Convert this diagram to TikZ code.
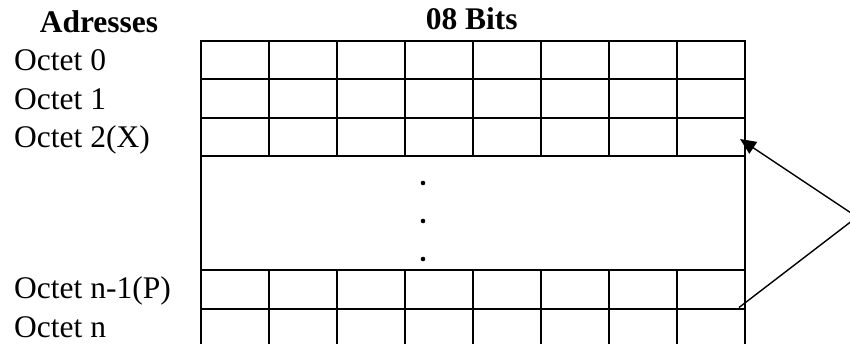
\documentclass[tikz,border=0pt]{standalone}
\usepackage{fontspec}
\setmainfont{Liberation Serif}
\usetikzlibrary{arrows.meta}
\begin{document}
\begin{tikzpicture}[x=1pt,y=-1pt,
  lbl/.style={anchor=base west,inner sep=0pt,font=\fontsize{31.5}{36}\selectfont},
  head/.style={anchor=base,inner sep=0pt,font=\fontsize{31.5}{36}\selectfont\bfseries},
  grid/.style={line width=1.9pt,line cap=rect},
  ptr/.style={line width=1.4pt,-{Triangle[length=16pt,width=14pt]}},
  ptrn/.style={line width=1.4pt}]
\useasboundingbox (0,0) rectangle (850,344);
% headings
\node[head] (hadr) at (99,33) {Adresses};
\node[head] (hbits) at (471.7,30) {08 Bits};
% labels
\node[lbl] (o0) at (14,71) {Octet 0};
\node[lbl] (o1) at (14,110) {Octet 1};
\node[lbl] (o2) at (14,148) {Octet 2(X)};
\node[lbl] (on1) at (14,298.3) {Octet n-1(P)};
\node[lbl] (on) at (14,337.3) {Octet n};
% table
\draw[grid] (200.7,40.7) rectangle (744.7,347.5);
\foreach \yy in {79.3,117.7,156,270,309}
  \draw[grid] (200.7,\yy) -- (744.7,\yy);
\foreach \k in {1,...,7}{
  \draw[grid] (200.7+68*\k,40.7) -- (200.7+68*\k,156);
  \draw[grid] (200.7+68*\k,270) -- (200.7+68*\k,347.5);
}
% dots
\foreach \yy in {183,221,259}
  \fill (423,\yy) circle (2.3pt);
% pointers
\coordinate (apex) at (857,217);
\coordinate (tipx) at (740,139);
\coordinate (tipp) at (739,307.5);
\draw[ptr] (apex) -- (tipx);
\draw[ptrn] (apex) -- (tipp);
\end{tikzpicture}
\end{document}
